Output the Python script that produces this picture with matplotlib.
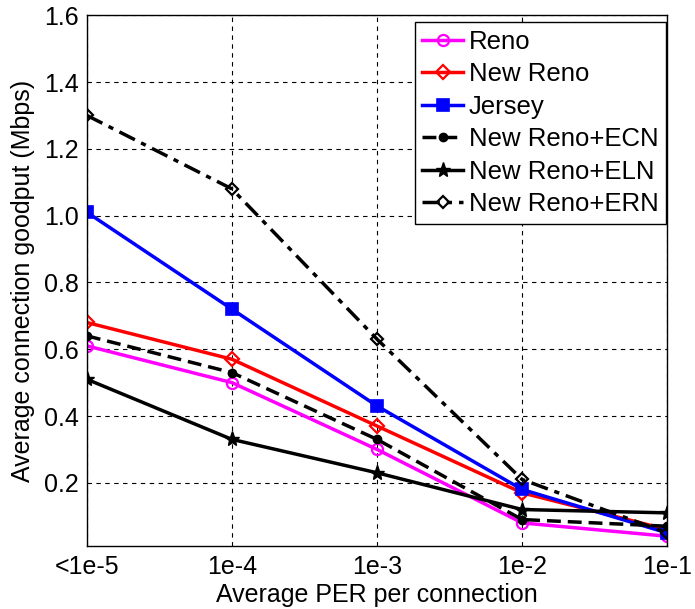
import matplotlib
matplotlib.use("Agg")
import matplotlib.pyplot as plt

plt.rcParams['font.family'] = ['Liberation Sans', 'DejaVu Sans']

# Packet error rate levels (equally spaced on a log axis)
per_labels = ['<1e-5', '1e-4', '1e-3', '1e-2', '1e-1']
per_pos = [0, 1, 2, 3, 4]

# Average connection goodput (Mbps) per TCP variant
reno = [0.61, 0.50, 0.30, 0.08, 0.04]
new_reno = [0.68, 0.57, 0.37, 0.17, 0.06]
jersey = [1.01, 0.72, 0.43, 0.18, 0.05]
new_reno_ecn = [0.64, 0.53, 0.33, 0.09, 0.07]
new_reno_eln = [0.51, 0.33, 0.23, 0.12, 0.11]
new_reno_ern = [1.30, 1.08, 0.63, 0.21, 0.05]

y_ticks = [0.2, 0.4, 0.6, 0.8, 1.0, 1.2, 1.4, 1.6]

fig = plt.figure(figsize=(6.95, 6.09), dpi=100)
ax = fig.add_axes([0.125, 0.103, 0.835, 0.872])

lw = 2.5
ax.plot(per_pos, reno, color='#ff00ff', lw=lw, marker='o', ms=8, mfc='none', mew=1.6, label='Reno')
ax.plot(per_pos, new_reno, color='red', lw=lw, marker='D', ms=7, mfc='none', mew=1.6, label='New Reno')
ax.plot(per_pos, jersey, color='blue', lw=lw, marker='s', ms=8, mfc='blue', mew=1.2, label='Jersey')
ax.plot(per_pos, new_reno_ecn, color='black', lw=lw, ls=(0, (4, 2)), marker='o', ms=6, mfc='black', label='New Reno+ECN')
ax.plot(per_pos, new_reno_eln, color='black', lw=lw, marker='*', ms=11, mfc='black', label='New Reno+ELN')
ax.plot(per_pos, new_reno_ern, color='black', lw=lw, ls=(0, (5, 2, 1.5, 2)), marker='D', ms=6.5, mfc='none', mew=1.6, label='New Reno+ERN')

ax.set_xlim(0, 4)
ax.set_ylim(0.01, 1.6)
ax.set_xticks(per_pos)
ax.set_xticklabels(per_labels)
ax.set_yticks(y_ticks)
ax.set_yticklabels([f'{v:.1f}' for v in y_ticks])
ax.tick_params(labelsize=18, direction='in', length=0, pad=6)
ax.grid(True, color='black', ls=(0, (4, 4)), lw=0.8)
for s in ax.spines.values():
    s.set_linewidth(1.0)

ax.set_xlabel('Average PER per connection', fontsize=18, labelpad=3)
ax.set_ylabel('Average connection goodput (Mbps)', fontsize=18, labelpad=6)

leg = ax.legend(loc='upper right', bbox_to_anchor=(0.998, 0.987), fontsize=18.5,
                frameon=True, fancybox=False, edgecolor='black', framealpha=1,
                handlelength=1.6, handletextpad=0.2, labelspacing=0.33,
                borderpad=0.3, borderaxespad=0)
leg.get_frame().set_linewidth(1.0)

fig.savefig('out.png', dpi=100)
